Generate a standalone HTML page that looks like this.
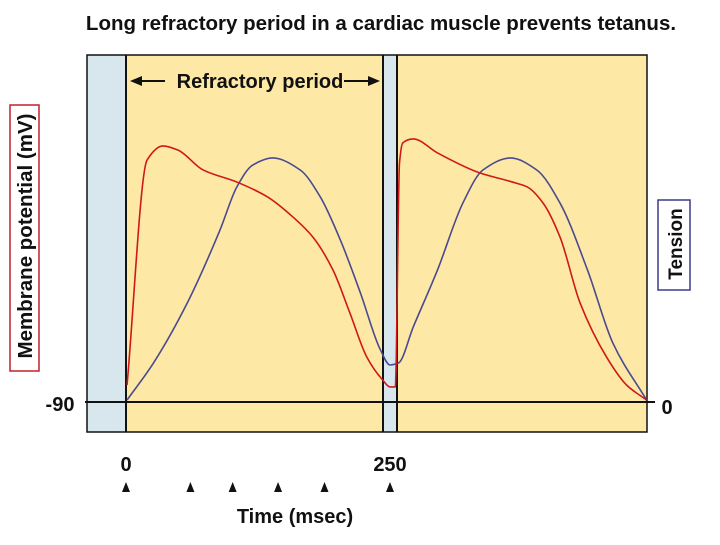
<!DOCTYPE html>
<html><head><meta charset="utf-8"><style>
body{margin:0;background:#fff;}
svg text{font-family:"Liberation Sans",sans-serif;font-weight:bold;fill:#111;}
</style></head><body>
<svg width="720" height="540">
<text x="381" y="30" font-size="20.5" text-anchor="middle">Long refractory period in a cardiac muscle prevents tetanus.</text>
<rect x="87" y="55" width="560" height="377" fill="#d8e6ee"/>
<rect x="126" y="55" width="257" height="377" fill="#fde8a6"/>
<rect x="397" y="55" width="250" height="377" fill="#fde8a6"/>
<rect x="87" y="55" width="560" height="377" fill="none" stroke="#111" stroke-width="1.5"/>
<g stroke="#111" stroke-width="2">
<line x1="126" y1="55" x2="126" y2="432"/><line x1="383" y1="55" x2="383" y2="432"/><line x1="397" y1="55" x2="397" y2="432"/>
<line x1="85" y1="402" x2="655" y2="402"/>
</g>
<g>
<text x="260" y="88" font-size="20" text-anchor="middle">Refractory period</text>
<line x1="140" y1="81" x2="165" y2="81" stroke="#111" stroke-width="2"/><polygon points="130,81 142,76 142,86" fill="#111"/>
<line x1="344" y1="81" x2="370" y2="81" stroke="#111" stroke-width="2"/><polygon points="380,81 368,76 368,86" fill="#111"/>
</g>
<rect x="10" y="105" width="29" height="266" fill="none" stroke="#c0222a" stroke-width="1.5"/>
<text transform="translate(32,236) rotate(-90)" font-size="20.5" text-anchor="middle">Membrane potential (mV)</text>
<rect x="658" y="200" width="32" height="90" fill="none" stroke="#3a3a8a" stroke-width="1.5"/>
<text transform="translate(682,244) rotate(-90)" font-size="19" text-anchor="middle">Tension</text>
<text x="60" y="411" font-size="20" text-anchor="middle">-90</text>
<text x="667" y="414" font-size="20" text-anchor="middle">0</text>
<text x="126" y="471" font-size="20" text-anchor="middle">0</text>
<text x="390" y="471" font-size="20" text-anchor="middle">250</text>
<text x="295" y="523" font-size="20" text-anchor="middle">Time (msec)</text>
<g id="marks"></g>
</svg>
<script>
const redT=[1,20,35,49,73,105,134,158,177,196,212,228,243,250,255,259,262,272,295,335,366,380,395,411,430,455,474,493];
const redV=[-82,23.9,30.5,28.6,19.2,13.5,6.5,-2.9,-12.4,-27.9,-48.1,-68.8,-79.6,-82.9,-82.9,22.5,31.9,33.8,27.2,17.8,13.5,11.2,3.6,-12.4,-43.4,-68.8,-82,-89.1];
const blueT=[1,26,58,89,105,120,139,165,184,203,222,241,250,258,272,295,319,338,364,389,411,437,461,493];
const blueV=[0.8,15.9,40.4,70.2,87.8,96.7,99.6,94.7,83.7,66.1,44.5,21.2,15.1,15.9,30.6,53.9,81.2,94.7,99.6,94.7,81.2,53.9,24.1,0.8];
const stimT=[0,61,101,144,188,250];
const xs=t=>126+t*1.056, ym=v=>402-(v+90)*2.125, yt=v=>402-v*2.45;
const NS="http://www.w3.org/2000/svg", g=document.getElementById('marks');
function path(T,V,yf,col,name){
  const X=T.map(xs), Y=V.map(yf), n=X.length;
  const d_=[], m=[];
  for(let i=0;i<n-1;i++) d_.push((Y[i+1]-Y[i])/(X[i+1]-X[i]));
  m[0]=d_[0]; m[n-1]=d_[n-2];
  for(let i=1;i<n-1;i++){
    if(d_[i-1]*d_[i]<=0) m[i]=0;
    else { const w1=2*(X[i+1]-X[i])+(X[i]-X[i-1]), w2=(X[i+1]-X[i])+2*(X[i]-X[i-1]); m[i]=(w1+w2)/(w1/d_[i-1]+w2/d_[i]); }
  }
  let d="M"+X[0]+","+Y[0];
  for(let i=0;i<n-1;i++){
    const h=(X[i+1]-X[i])/3;
    d+=` C${X[i]+h},${Y[i]+m[i]*h} ${X[i+1]-h},${Y[i+1]-m[i+1]*h} ${X[i+1]},${Y[i+1]}`;
  }
  const e=document.createElementNS(NS,'path');
  e.setAttribute('d',d);e.setAttribute('fill','none');e.setAttribute('stroke',col);e.setAttribute('stroke-width','1.6');
  
  
  g.appendChild(e);
}
path(blueT,blueV,yt,'#4a4a90','tension-line');
path(redT,redV,ym,'#d01818','membrane-potential-line');
stimT.forEach(t=>{
  const e=document.createElementNS(NS,'polygon');const x=xs(t);
  e.setAttribute('points',`${x-4},492 ${x+4},492 ${x},482`);e.setAttribute('fill','#111');
  
  
  g.appendChild(e);
});
</script>
</body></html>
